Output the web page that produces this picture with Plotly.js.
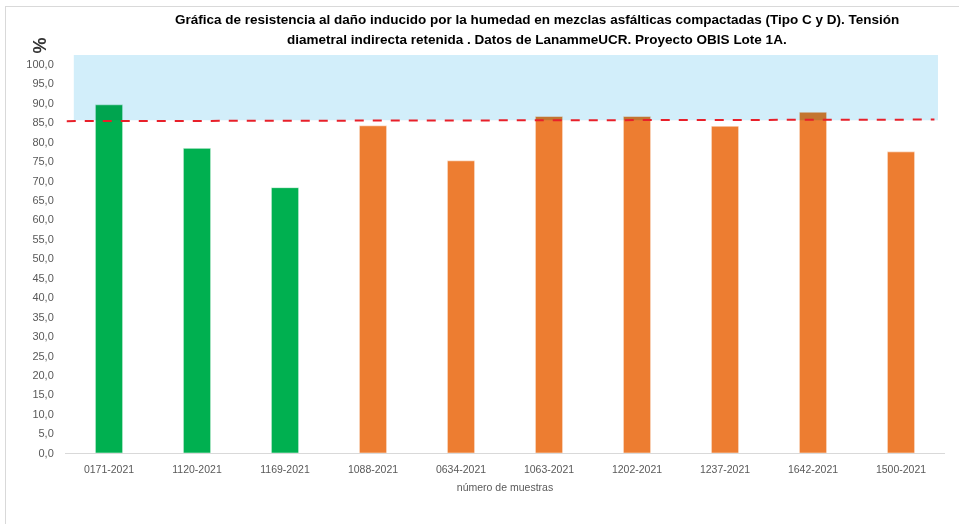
<!DOCTYPE html>
<html>
<head>
<meta charset="utf-8">
<script src="https://cdn.plot.ly/plotly-3.0.1.min.js"></script>
<style>
  body { margin: 0; background: #fff; }
  #wrap { position: relative; width: 959px; height: 524px; }
  #frame { position: absolute; left: 5px; top: 6px; right: -2px; bottom: -2px;
           border: 1px solid #d9d9d9; pointer-events: none; }
</style>
</head>
<body>
<div id="wrap">
  <div id="chart" style="width:959px;height:524px;"></div>
  <div id="frame"></div>
</div>
<script>
var muestras = ["0171-2021", "1120-2021", "1169-2021", "1088-2021", "0634-2021",
                "1063-2021", "1202-2021", "1237-2021", "1642-2021", "1500-2021"];
var tsr = [89.5, 78.3, 68.2, 84.1, 75.1, 86.5, 86.5, 84.0, 87.6, 77.4];
var grupo = ["C", "C", "C", "D", "D", "D", "D", "D", "D", "D"];
var limite = [85.3, 85.7];
var titulo1 = "Gráfica de resistencia al daño inducido por la humedad en mezclas asfálticas compactadas (Tipo C y D). Tensión";
var titulo2 = "diametral indirecta retenida . Datos de LanammeUCR. Proyecto OBIS Lote 1A.";

var colores = grupo.map(g => g == "C" ? "#00B050" : "#ED7D31");

var trace = {
  x: muestras,
  y: tsr,
  type: "bar",
  marker: {color: colores, line: {color: "rgba(255,255,255,0.5)", width: 1}},
  hoverinfo: "x+y"
};

var tickFont = {family: "Liberation Sans, Arial, sans-serif", size: 10.5, color: "#595959"};
var titleFont = {family: "Liberation Sans, Arial, sans-serif", size: 13.5, color: "#000", weight: "bold"};

var layout = {
  width: 959,
  height: 524,
  margin: {l: 65, r: 14, t: 55, b: 71},
  paper_bgcolor: "#fff",
  plot_bgcolor: "rgba(0,0,0,0)",
  separators: ",.",
  showlegend: false,
  bargap: 0.69,
  xaxis: {
    type: "category",
    showline: true, linecolor: "#d9d9d9", linewidth: 1,
    showgrid: false, zeroline: false,
    ticks: "outside", ticklen: 6, tickcolor: "rgba(0,0,0,0)",
    tickfont: tickFont,
    title: {text: "número de muestras", font: tickFont, standoff: 10}
  },
  yaxis: {
    range: [0, 102.3],
    dtick: 5, tick0: 0,
    tickformat: ".1f",
    showgrid: false, zeroline: false, showline: false,
    ticks: "outside", ticklen: 8, tickcolor: "rgba(0,0,0,0)",
    tickfont: {family: "Liberation Sans, Arial, sans-serif", size: 11, color: "#595959"}
  },
  shapes: [
    {type: "rect", xref: "paper", yref: "y", x0: 0.01, x1: 0.992, y0: 85.5, y1: 102.3,
     fillcolor: "#D2EEFA", line: {width: 0}, layer: "above"},
    {type: "line", xref: "paper", yref: "y", x0: 0.002, x1: 0.988, y0: limite[0], y1: limite[1],
     line: {color: "#E8202A", width: 2, dash: "dash"}, layer: "above"}
  ],
  annotations: [
    {text: titulo1, xref: "paper", yref: "paper", x: 0.536, y: 1.088, showarrow: false,
     xanchor: "center", yanchor: "middle", font: titleFont},
    {text: titulo2, xref: "paper", yref: "paper", x: 0.536, y: 1.040, showarrow: false,
     xanchor: "center", yanchor: "middle", font: titleFont},
    {text: "%", xref: "paper", yref: "paper", x: -0.028, y: 1.025, showarrow: false,
     textangle: -90, xanchor: "center", yanchor: "middle",
     font: {family: "Liberation Sans, Arial, sans-serif", size: 18, color: "#333", weight: "bold"}}
  ]
};

Plotly.newPlot("chart", [trace], layout, {displayModeBar: false, staticPlot: true}).then(function () {
  // band multiplies over the bar tops, like in the original; red line stays on top, unblended
  var above = document.querySelector("#chart .layer-above");
  if (!above) return;
  var shapesUp = above.querySelector(".shapelayer");
  var items = shapesUp ? shapesUp.children : [];
  var topG = document.createElementNS("http://www.w3.org/2000/svg", "g");
  above.parentNode.insertBefore(topG, above.nextSibling);
  if (items.length > 1) topG.appendChild(items[1]);
  above.setAttribute("style", "mix-blend-mode: multiply");
});
</script>
</body>
</html>
